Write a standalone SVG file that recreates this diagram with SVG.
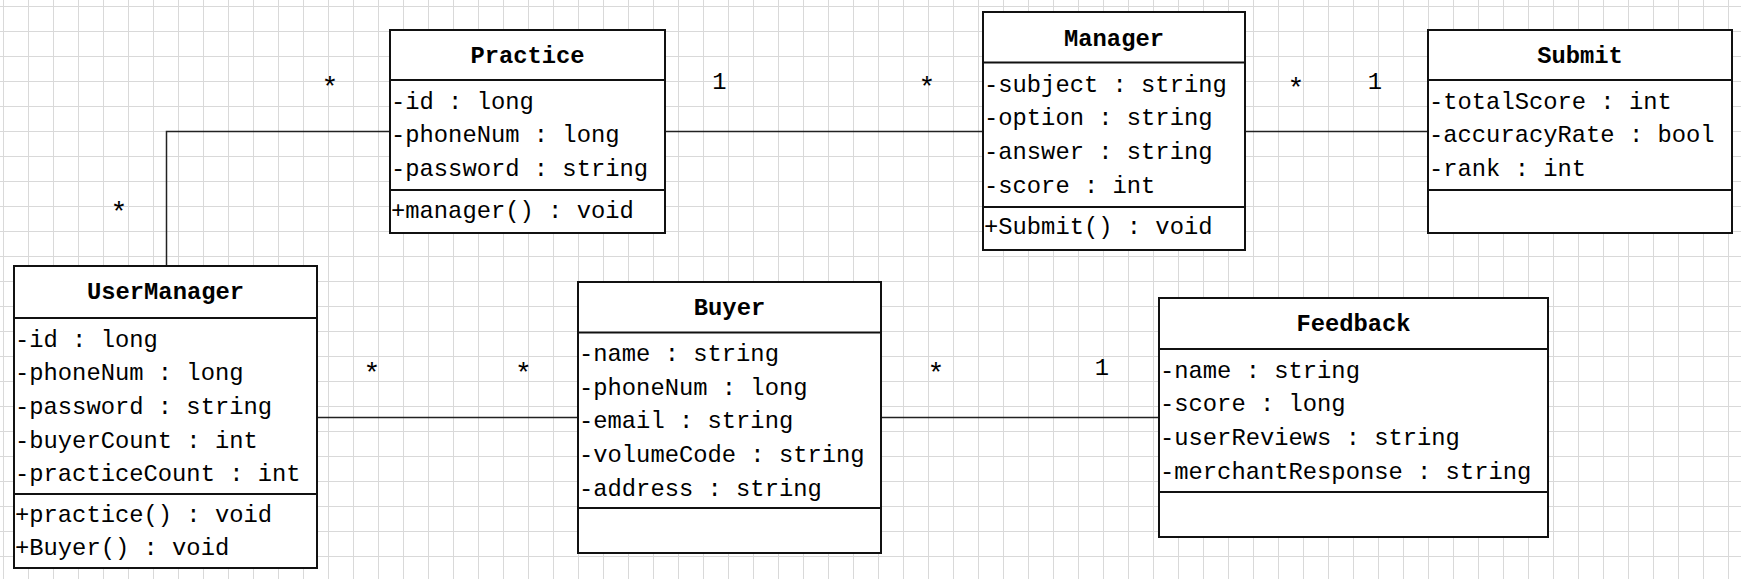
<svg xmlns="http://www.w3.org/2000/svg" width="1741" height="579" viewBox="0 0 1741 579">
<style>
  .box{fill:#fff;stroke:#111;stroke-width:2}
  .div{stroke:#111;stroke-width:2}
  .t{font-family:"Liberation Mono","DejaVu Sans Mono",monospace;font-size:23.8px;fill:#000}
  .title{font-weight:bold;text-anchor:middle}
  .conn{fill:none;stroke:#222;stroke-width:1.5}
  .lbl{font-family:"Liberation Mono","DejaVu Sans Mono",monospace;font-size:23.8px;fill:#000;text-anchor:middle}
  .star{font-size:28px}
</style>
<defs>
  <pattern id="grid" patternUnits="userSpaceOnUse" x="3" y="6" width="25" height="25">
    <path d="M0 0.5H25M0.5 0V25" stroke="#d9d9d9" stroke-width="1" fill="none"/>
  </pattern>
</defs>
<rect width="1741" height="579" fill="#fff"/>
<rect width="1741" height="579" fill="url(#grid)"/>

<g id="connectors">
  <polyline class="conn" points="166.5,266 166.5,131.5 390,131.5"/>
  <line class="conn" x1="665" y1="131.5" x2="983" y2="131.5"/>
  <line class="conn" x1="1245" y1="131.5" x2="1428" y2="131.5"/>
  <line class="conn" x1="317" y1="417.5" x2="578" y2="417.5"/>
  <line class="conn" x1="881" y1="417.5" x2="1159" y2="417.5"/>
  <text class="lbl star" x="330" y="96">*</text>
  <text class="lbl star" x="119" y="220.5">*</text>
  <text class="lbl" x="719.5" y="89">1</text>
  <text class="lbl star" x="927" y="96">*</text>
  <text class="lbl star" x="1296" y="96.5">*</text>
  <text class="lbl" x="1375" y="89">1</text>
  <text class="lbl star" x="372" y="382">*</text>
  <text class="lbl star" x="523.5" y="382">*</text>
  <text class="lbl star" x="936" y="382">*</text>
  <text class="lbl" x="1102" y="375">1</text>
</g>

<g id="Practice">
  <rect class="box" x="390" y="30" width="275" height="203"/>
  <line class="div" x1="390" y1="80" x2="665" y2="80"/>
  <line class="div" x1="390" y1="190" x2="665" y2="190"/>
  <text class="t title" x="527.5" y="63">Practice</text>
  <text class="t" x="391" y="108.5">-id : long</text>
  <text class="t" x="391" y="142.2">-phoneNum : long</text>
  <text class="t" x="391" y="175.9">-password : string</text>
  <text class="t" x="391" y="217.5">+manager() : void</text>
</g>

<g id="Manager">
  <rect class="box" x="983" y="12" width="262" height="238"/>
  <line class="div" x1="983" y1="62.5" x2="1245" y2="62.5"/>
  <line class="div" x1="983" y1="207" x2="1245" y2="207"/>
  <text class="t title" x="1114" y="45.5">Manager</text>
  <text class="t" x="984" y="91.5">-subject : string</text>
  <text class="t" x="984" y="125.3">-option : string</text>
  <text class="t" x="984" y="159.1">-answer : string</text>
  <text class="t" x="984" y="192.9">-score : int</text>
  <text class="t" x="984" y="234">+Submit() : void</text>
</g>

<g id="Submit">
  <rect class="box" x="1428" y="30" width="304" height="203"/>
  <line class="div" x1="1428" y1="80" x2="1732" y2="80"/>
  <line class="div" x1="1428" y1="190" x2="1732" y2="190"/>
  <text class="t title" x="1580" y="63">Submit</text>
  <text class="t" x="1429" y="108.5">-totalScore : int</text>
  <text class="t" x="1429" y="142.2">-accuracyRate : bool</text>
  <text class="t" x="1429" y="175.9">-rank : int</text>
</g>

<g id="UserManager">
  <rect class="box" x="14" y="266" width="303" height="302"/>
  <line class="div" x1="14" y1="318" x2="317" y2="318"/>
  <line class="div" x1="14" y1="494" x2="317" y2="494"/>
  <text class="t title" x="165.5" y="299">UserManager</text>
  <text class="t" x="15" y="346.5">-id : long</text>
  <text class="t" x="15" y="380.2">-phoneNum : long</text>
  <text class="t" x="15" y="413.9">-password : string</text>
  <text class="t" x="15" y="447.6">-buyerCount : int</text>
  <text class="t" x="15" y="481.3">-practiceCount : int</text>
  <text class="t" x="15" y="521.5">+practice() : void</text>
  <text class="t" x="15" y="555.2">+Buyer() : void</text>
</g>

<g id="Buyer">
  <rect class="box" x="578" y="282" width="303" height="271"/>
  <line class="div" x1="578" y1="332.5" x2="881" y2="332.5"/>
  <line class="div" x1="578" y1="508" x2="881" y2="508"/>
  <text class="t title" x="729.5" y="315">Buyer</text>
  <text class="t" x="579" y="361">-name : string</text>
  <text class="t" x="579" y="394.7">-phoneNum : long</text>
  <text class="t" x="579" y="428.4">-email : string</text>
  <text class="t" x="579" y="462.1">-volumeCode : string</text>
  <text class="t" x="579" y="495.8">-address : string</text>
</g>

<g id="Feedback">
  <rect class="box" x="1159" y="298" width="389" height="239"/>
  <line class="div" x1="1159" y1="349" x2="1548" y2="349"/>
  <line class="div" x1="1159" y1="492" x2="1548" y2="492"/>
  <text class="t title" x="1353.5" y="331">Feedback</text>
  <text class="t" x="1160" y="377.5">-name : string</text>
  <text class="t" x="1160" y="411.2">-score : long</text>
  <text class="t" x="1160" y="444.9">-userReviews : string</text>
  <text class="t" x="1160" y="478.6">-merchantResponse : string</text>
</g>
</svg>
